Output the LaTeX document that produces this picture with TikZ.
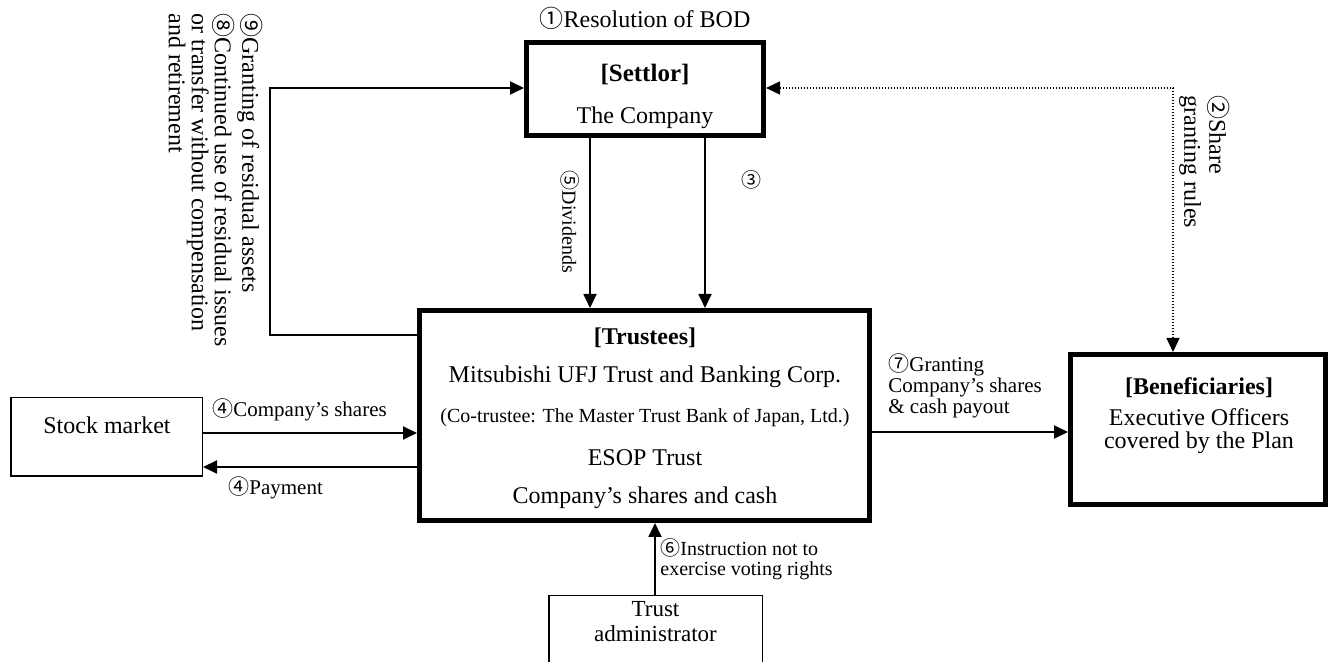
\documentclass[tikz,border=0pt]{standalone}
\usepackage{fontspec}
\setmainfont{Liberation Serif}
\newfontfamily\cjk{Noto Sans CJK JP}
\usetikzlibrary{arrows.meta}
\newcommand\cnum[1]{{\cjk #1}}
\begin{document}
\begin{tikzpicture}[x=0.5pt,y=-0.5pt,
  thickbox/.style={draw, line width=2.5pt, inner sep=0pt},
  thinbox/.style={draw, line width=0.75pt, inner sep=0pt},
  txt/.style={inner sep=0pt, align=center, font=\fontsize{12}{12}\selectfont},
  btxt/.style={inner sep=0pt, align=center, font=\bfseries\fontsize{12}{12}\selectfont},
  lbl/.style={inner sep=0pt, align=left, font=\fontsize{10.5}{10.5}\selectfont},
  tip/.tip={Triangle[length=7pt,width=6.5pt]},
  arr/.style={line width=0.9pt, -tip},
]
\useasboundingbox (0,0) rectangle (1335,662);
\clip (0,0) rectangle (1335,662);

% boxes
\node[thickbox, minimum width=118.5pt, minimum height=46.5pt] (settlor) at (645,89) {};
\node[thickbox, minimum width=225pt, minimum height=105pt] (trustees) at (644.5,415.5) {};
\node[thickbox, minimum width=127.5pt, minimum height=75pt] (benef) at (1198,429.5) {};
\node[thinbox, minimum width=95.75pt, minimum height=39.25pt] (stock) at (106.5,437) {};
\node[thinbox, minimum width=106.75pt, minimum height=54.25pt] (admin) at (655.5,650) {};

% box texts
\node[btxt, font=\bfseries\fontsize{12.5}{12.5}\selectfont] (settlorT) at (645,75) {[Settlor]};
\node[txt] (settlorC) at (645,118) {The Company};
\node[txt] (bod) at (645,18) {\cnum{①}Resolution of BOD};

\node[btxt] (trT) at (645,338) {[Trustees]};
\node[txt] (trA) at (645,377) {Mitsubishi UFJ Trust and Banking Corp.};
\node[txt, font=\fontsize{10}{10}\selectfont] (trB) at (645,418) {(Co-trustee: The Master Trust Bank of Japan, Ltd.)};
\node[txt] (trC) at (645,458) {ESOP Trust};
\node[txt] (trD) at (645,498) {Company’s shares and cash};

\node[btxt] (beT) at (1199,388) {[Beneficiaries]};
\node[txt, font=\fontsize{12}{11.5}\selectfont] (beA) at (1199,431) {Executive Officers\\covered by the Plan};

\node[txt] (stT) at (107,425) {Stock market};
\node[txt, font=\fontsize{11.5}{12.5}\selectfont] (adT) at (655.5,622) {Trust\\administrator};

% helper coordinates
\coordinate (xdiv) at (590,0);
\coordinate (xthree) at (705,0);
\coordinate (loopB) at (270,335);
\coordinate (loopT) at (270,88);
\coordinate (dotC) at (1173,88);
\coordinate (yshares) at (0,433);
\coordinate (ypay) at (0,467);
\coordinate (ygrant) at (0,432);
\coordinate (xsix) at (655,0);

% connectors
\draw[arr] (settlor.south -| xdiv) -- (trustees.north -| xdiv);
\draw[arr] (settlor.south -| xthree) -- (trustees.north -| xthree);
\draw[arr] (trustees.west |- loopB) -- (loopB) -- (loopT) -- (settlor.west |- loopT);
\draw[line width=0.75pt, dash pattern=on 0.6pt off 0.9pt, tip-tip] (settlor.east |- dotC) -- (dotC) -- (benef.north -| dotC);
\draw[arr] (stock.east |- yshares) -- (trustees.west |- yshares);
\draw[arr] (trustees.west |- ypay) -- (stock.east |- ypay);
\draw[arr] (trustees.east |- ygrant) -- (benef.west |- ygrant);
\draw[arr] (admin.north -| xsix) -- (trustees.south -| xsix);

% labels
\node[lbl, font=\fontsize{10}{10}\selectfont, rotate=-90] (l5) at (570,222) {\cnum{⑤}Dividends};
\node[lbl, font=\fontsize{10}{10}\selectfont] (l3) at (751,180) {\cnum{③}};
\node[lbl, font=\fontsize{12}{12.5}\selectfont, rotate=-90, anchor=north west] (l2) at (1230,95) {\cnum{②}Share\\granting rules};
\node[lbl, font=\fontsize{12}{11.5}\selectfont, rotate=-90, anchor=north west] (l98) at (263,13) {\cnum{⑨}Granting of residual assets\\\cnum{⑧}Continued use of residual issues\\or transfer without compensation\\and retirement};
\node[lbl, anchor=west] (l4a) at (212,410) {\cnum{④}Company’s shares};
\node[lbl, anchor=west] (l4b) at (228,488) {\cnum{④}Payment};
\node[lbl, anchor=west] (l7) at (888,386) {\cnum{⑦}Granting\\Company’s shares\\\& cash payout};
\node[lbl, anchor=west, font=\fontsize{10}{10}\selectfont] (l6) at (660,559) {\cnum{⑥}Instruction not to\\exercise voting rights};
\end{tikzpicture}
\end{document}
